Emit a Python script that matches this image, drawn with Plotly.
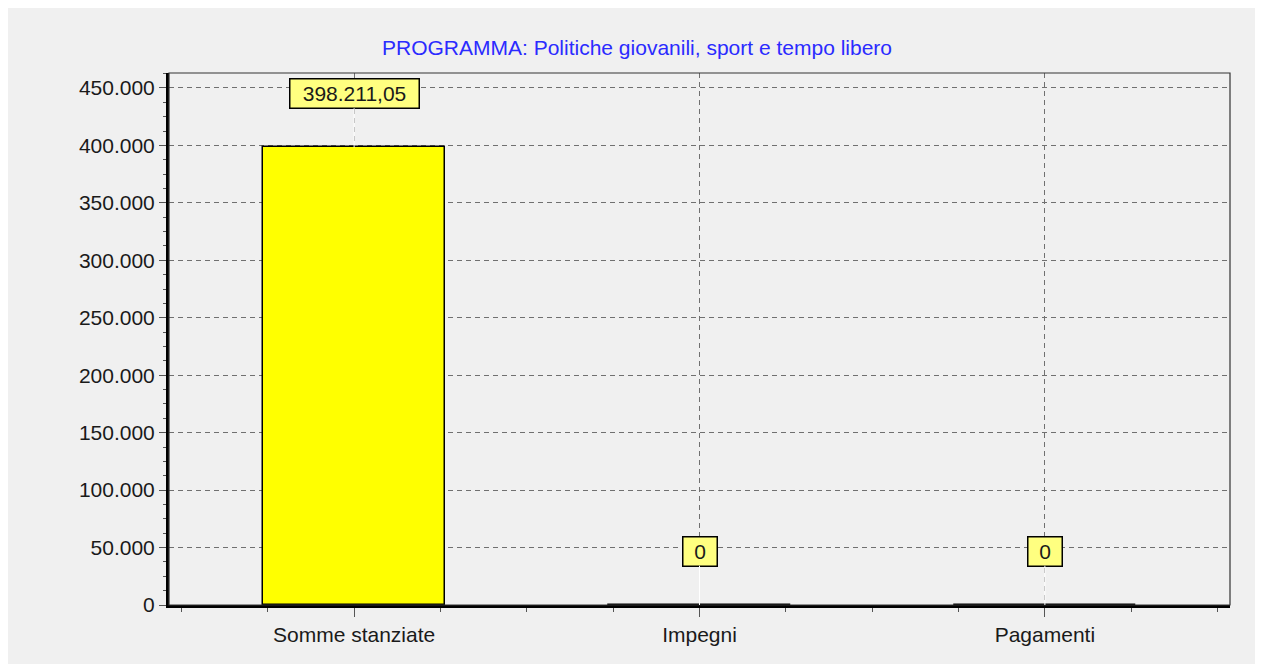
import plotly.graph_objects as go

categories = ["Somme stanziate", "Impegni", "Pagamenti"]
values = [398211.05, 0, 0]
title_text = "PROGRAMMA: Politiche giovanili, sport e tempo libero"
y_tick_vals = [0, 50000, 100000, 150000, 200000, 250000, 300000, 350000, 400000, 450000]


def it_fmt(v):
    if float(v).is_integer():
        s = f"{int(v):,}".replace(",", ".")
    else:
        s = f"{v:,.2f}".replace(",", "X").replace(".", ",").replace("X", ".")
    return s


x_pos = list(range(len(categories)))
font_main = "Liberation Sans, Arial, sans-serif"
FS = 21

fig = go.Figure()
fig.add_trace(go.Bar(
    x=x_pos, y=values, width=0.527,
    marker=dict(color="#ffff00", line=dict(color="#000000", width=1.5)),
    hoverinfo="skip", showlegend=False,
))

# page body has an 8px margin; figure starts at (8, 8)
OFF = 8
W, H = 1258 - OFF, 664 - OFF
L = 169 - OFF
T = 73 - OFF
R = W - (1230 - OFF)
B = H - (605 - OFF)

shapes = [
    dict(type="rect", xref="paper", yref="paper", layer="above",
         x0=0, x1=1, y0=0, y1=1, line=dict(color="#333333", width=1.2)),
]

annotations = []
for xi, v in zip(x_pos, values):
    txt = it_fmt(v)
    annotations.append(dict(
        x=xi, y=v, xref="x", yref="y", text=txt,
        showarrow=True, arrowhead=0, arrowcolor="#ffffff", arrowwidth=1,
        ax=0, ay=-54, standoff=0,
        bgcolor="#ffff80", bordercolor="#000000", borderwidth=1.5,
        width=max(31, 12.6 * len(txt)), height=26,
        font=dict(family=font_main, size=FS, color="#1a1a1a"),
    ))

fig.update_layout(
    width=W, height=H,
    margin=dict(l=L, r=R, t=T, b=B, pad=0),
    paper_bgcolor="#f0f0f0", plot_bgcolor="#f0f0f0",
    separators=",.",
    title=dict(text=title_text, x=(637 - OFF) / W, xanchor="center", xref="container",
               y=1 - (48 - OFF) / H, yanchor="middle", yref="container",
               font=dict(family=font_main, size=FS, color="#2b2bff")),
    shapes=shapes, annotations=annotations,
    bargap=0,
)

fig.update_xaxes(
    range=[-0.536, 2.536], tickvals=x_pos, ticktext=categories,
    showgrid=True, gridcolor="#707070", griddash="5px,4px", gridwidth=1.2,
    showline=True, linecolor="#000000", linewidth=3,
    ticks="outside", ticklen=9, tickcolor="#555555", tickwidth=1,
    minor=dict(dtick=0.25, tick0=0, ticks="outside", ticklen=4, tickcolor="#555555", showgrid=False),
    tickfont=dict(family=font_main, size=FS, color="#1a1a1a"),
    zeroline=False, fixedrange=True,
)
fig.update_yaxes(
    range=[0, 463000], tickvals=y_tick_vals, tickformat=",d",
    showgrid=True, gridcolor="#707070", griddash="5px,4px", gridwidth=1.2,
    showline=True, linecolor="#000000", linewidth=3,
    ticks="outside", ticklen=7, tickcolor="#555555", tickwidth=1,
    minor=dict(dtick=12500, tick0=0, ticks="outside", ticklen=3, tickcolor="#555555", showgrid=False),
    tickfont=dict(family=font_main, size=FS, color="#1a1a1a"),
    zeroline=False, fixedrange=True,
)

fig.write_html("out.html", config={"displayModeBar": False})
